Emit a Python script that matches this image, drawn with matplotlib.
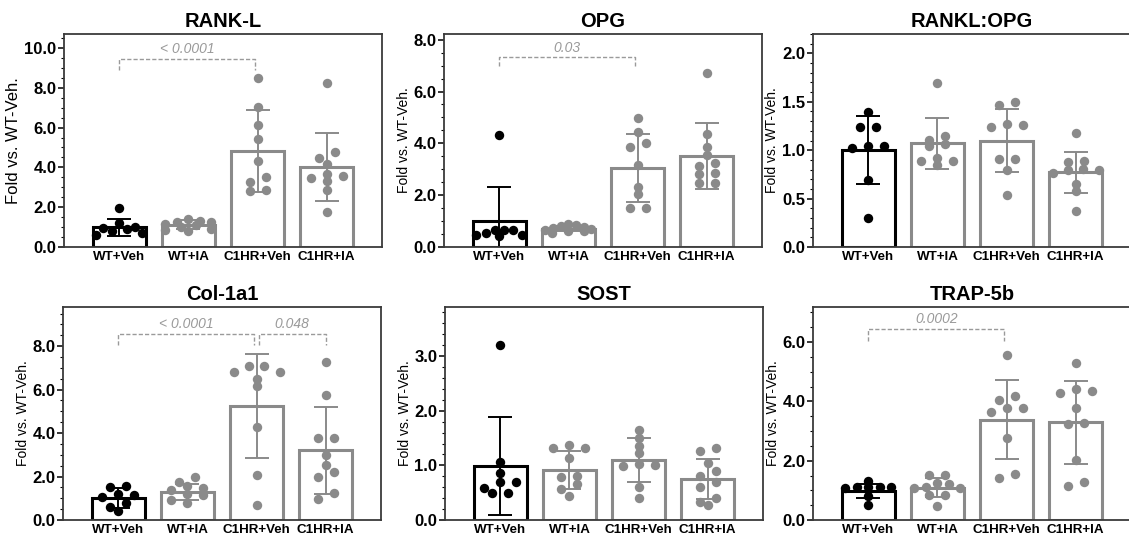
import numpy as np
import matplotlib
matplotlib.use("Agg")
import matplotlib.pyplot as plt
from matplotlib.ticker import MultipleLocator, FormatStrFormatter

plt.rcParams["font.family"] = ["Liberation Sans", "DejaVu Sans"]

groups = ["WT+Veh", "WT+IA", "C1HR+Veh", "C1HR+IA"]

# individual animals (fold vs WT-Veh)
rankl_pts = [[1.94, 1.23, 0.98, 0.95, 0.90, 0.80, 0.72, 0.62],
             [1.40, 1.30, 1.27, 1.26, 1.15, 1.10, 1.02, 0.92, 0.85, 0.80],
             [8.50, 7.04, 6.13, 5.41, 4.31, 3.51, 3.29, 2.85, 2.82],
             [8.24, 4.76, 4.48, 4.19, 3.68, 3.58, 3.46, 3.34, 2.87, 1.74]]
rankl_mean = [0.98, 1.12, 4.83, 4.03]
rankl_sd = [0.41, 0.22, 2.05, 1.70]

opg_pts = [[4.31, 0.67, 0.67, 0.64, 0.54, 0.48, 0.48, 0.41],
           [0.87, 0.85, 0.80, 0.78, 0.75, 0.70, 0.65, 0.62, 0.60, 0.55],
           [4.99, 4.44, 4.00, 3.87, 3.16, 2.31, 2.03, 1.51, 1.51],
           [6.71, 4.35, 3.86, 3.54, 3.25, 3.12, 2.86, 2.80, 2.48, 2.48]]
opg_mean = [1.00, 0.70, 3.05, 3.52]
opg_sd = [1.32, 0.10, 1.30, 1.27]

ratio_pts = [[1.39, 1.24, 1.24, 1.04, 1.04, 1.02, 0.69, 0.30],
             [1.69, 1.15, 1.11, 1.06, 1.04, 0.92, 0.89, 0.89, 0.85],
             [1.50, 1.47, 1.27, 1.26, 1.24, 0.91, 0.91, 0.80, 0.54],
             [1.18, 0.89, 0.88, 0.81, 0.80, 0.80, 0.76, 0.65, 0.58, 0.37]]
ratio_mean = [1.00, 1.07, 1.10, 0.77]
ratio_sd = [0.35, 0.26, 0.33, 0.21]

col_pts = [[1.55, 1.50, 1.20, 1.15, 1.05, 0.80, 0.58, 0.40],
           [1.99, 1.76, 1.57, 1.45, 1.38, 1.18, 1.15, 0.92, 0.80],
           [7.08, 7.08, 6.83, 6.83, 6.47, 6.16, 4.28, 2.06, 0.69],
           [7.29, 5.73, 3.78, 3.78, 2.98, 2.52, 2.19, 1.96, 1.22, 0.96]]
col_mean = [1.00, 1.30, 5.23, 3.21]
col_sd = [0.45, 0.37, 2.39, 2.00]

sost_pts = [[3.20, 1.07, 0.86, 0.69, 0.69, 0.59, 0.49, 0.49],
            [1.37, 1.31, 1.31, 1.13, 0.80, 0.78, 0.66, 0.56, 0.44],
            [1.65, 1.50, 1.36, 1.22, 1.03, 1.00, 0.98, 0.61, 0.41],
            [1.32, 1.27, 1.04, 0.90, 0.81, 0.69, 0.61, 0.40, 0.33, 0.27]]
sost_mean = [0.99, 0.91, 1.10, 0.75]
sost_sd = [0.90, 0.35, 0.41, 0.37]

trap_pts = [[1.32, 1.12, 1.12, 1.10, 1.10, 1.08, 0.81, 0.51],
            [1.52, 1.52, 1.26, 1.22, 1.10, 1.09, 1.08, 0.83, 0.83, 0.47],
            [5.57, 4.19, 4.06, 3.77, 3.77, 3.63, 2.78, 1.54, 1.40],
            [5.29, 4.42, 4.36, 4.27, 3.77, 3.26, 3.24, 2.03, 1.29, 1.13]]
trap_mean = [0.98, 1.09, 3.38, 3.29]
trap_sd = [0.23, 0.33, 1.33, 1.41]

# p-value brackets: (group a, group b, label)
rankl_sig = [(0, 2, "< 0.0001")]
opg_sig = [(0, 2, "0.03")]
col_sig = [(0, 2, "< 0.0001"), (2, 3, "0.048")]
trap_sig = [(0, 2, "0.0002")]

W, H = 1129, 541
BLACK = "#000000"
GREY = "#8a8a8a"
SIGC = "#9a9a9a"

panels = [
    # title, pts, mean, sd, ymax, major, minor, sig, sig line y, sig drop y, box px (left, top), ylabel size
    ("RANK-L", rankl_pts, rankl_mean, rankl_sd, 10.7, 2, 0.5, rankl_sig, 9.46, 8.9, (64, 34), 12),
    ("OPG", opg_pts, opg_mean, opg_sd, 8.22, 2, 0.5, opg_sig, 7.32, 6.99, (444, 34), 10),
    ("RANKL:OPG", ratio_pts, ratio_mean, ratio_sd, 2.2, 0.5, 0.1, [], 0, 0, (813, 34), 10),
    ("Col-1a1", col_pts, col_mean, col_sd, 9.8, 2, 0.5, col_sig, 8.56, 8.06, (63, 307), 10),
    ("SOST", sost_pts, sost_mean, sost_sd, 3.9, 1, 0.2, [], 0, 0, (445, 307), 10),
    ("TRAP-5b", trap_pts, trap_mean, trap_sd, 7.18, 2, 0.5, trap_sig, 6.45, 6.05, (813, 307), 10),
]

AX_W, AX_H = 318, 213
XMIN, XMAX = -0.8, 3.8


def swarm(vals, py, px, diam=9.0, gap=16.0, maxw=46.0):
    # row-based column scatter: close values share a row, highest in the middle
    vals = np.asarray(vals)
    order = np.argsort(-vals, kind="stable")
    rows, cur = [], []
    for i in order:
        if cur and abs(vals[cur[0]] - vals[i]) * py > diam * 0.65:
            rows.append(cur)
            cur = []
        cur.append(i)
    rows.append(cur)
    offs = np.zeros(len(vals))
    for row in rows:
        n = len(row)
        g = gap if (n - 1) * gap <= maxw else maxw / (n - 1)
        slots = [(k - (n - 1) / 2) * g for k in range(n)]
        slots.sort(key=lambda s: (abs(s), -s))
        for s, i in zip(slots, row):
            offs[i] = s / px
    return offs


fig = plt.figure(figsize=(W / 100, H / 100), dpi=100)

for title, pts, mean, sd, ymax, major, minor, sig, sy, sdrop, (l, t), ylsize in panels:
    ax = fig.add_axes([l / W, 1 - (t + AX_H) / H, AX_W / W, AX_H / H])
    x = np.arange(len(groups))
    colors = [BLACK, GREY, GREY, GREY]
    py = AX_H / ymax
    px = AX_W / (XMAX - XMIN)
    for i in range(len(groups)):
        c = colors[i]
        ax.bar(x[i], mean[i], width=0.77, facecolor="white", edgecolor=c,
               linewidth=2.2, zorder=1)
        ax.errorbar(x[i], mean[i], yerr=sd[i], fmt="none", ecolor=c,
                    elinewidth=1.4, capsize=8.5, capthick=1.4, zorder=2)
        offs = swarm(pts[i], py, px)
        ax.scatter(x[i] + offs, pts[i], s=46, color=c, linewidths=0, zorder=3)

    for a, b, lab in sig:
        xa = x[a] + (0.03 if a == 2 else 0)
        xb = x[b] - (0.03 if b == 2 else 0)
        ax.plot([xa, xa, xb, xb], [sdrop, sy, sy, sdrop], ls=(0, (3, 1.5)),
                color=SIGC, lw=1.0, zorder=4)
        ax.annotate(lab, ((xa + xb) / 2, sy), xytext=(0, 7), textcoords="offset points",
                    ha="center", va="center", fontsize=10, style="italic", color=SIGC)

    ax.set_xlim(XMIN, XMAX)
    ax.set_ylim(0, ymax)
    ax.yaxis.set_major_locator(MultipleLocator(major))
    ax.yaxis.set_minor_locator(MultipleLocator(minor))
    ax.yaxis.set_major_formatter(FormatStrFormatter("%.1f"))
    ax.set_xticks(x)
    ax.set_xticklabels(groups, fontsize=9.6, fontweight="bold")
    ax.tick_params(axis="x", length=0, pad=3)
    ax.tick_params(axis="y", which="major", length=4, width=1.1, pad=1.5,
                   labelsize=12)
    ax.tick_params(axis="y", which="minor", length=2, width=0.8)
    for lab in ax.get_yticklabels():
        lab.set_fontweight("bold")
    for s in ax.spines.values():
        s.set_color("#3a3a3a")
        s.set_linewidth(1.3)
    ax.set_ylabel("Fold vs. WT-Veh.", fontsize=ylsize, labelpad=2)
    ax.set_title(title, fontsize=14.5, fontweight="bold", pad=5)

fig.savefig("out.png", dpi=100)
